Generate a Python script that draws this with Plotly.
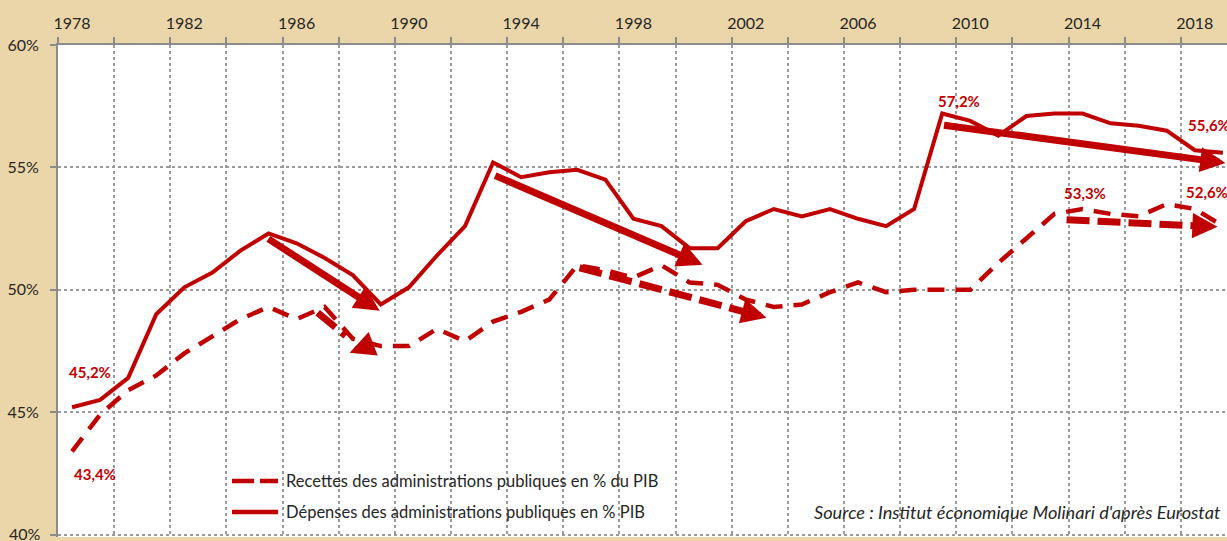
import plotly.graph_objects as go

# ---------------- data ----------------
years = list(range(1978, 2020))
depenses = [45.2, 45.5, 46.4, 49.0, 50.1, 50.7, 51.6, 52.3, 51.9, 51.3,
            50.6, 49.4, 50.1, 51.4, 52.6, 55.2, 54.6, 54.8, 54.9, 54.5,
            52.9, 52.6, 51.7, 51.7, 52.8, 53.3, 53.0, 53.3, 52.9, 52.6,
            53.3, 57.2, 56.9, 56.3, 57.1, 57.2, 57.2, 56.8, 56.7, 56.5,
            55.7, 55.6]
recettes = [43.4, 44.9, 45.9, 46.5, 47.4, 48.1, 48.8, 49.3, 48.8, 49.3,
            48.0, 47.7, 47.7, 48.4, 47.9, 48.7, 49.1, 49.6, 51.0, 50.8,
            50.5, 51.0, 50.3, 50.2, 49.6, 49.3, 49.4, 49.9, 50.3, 49.9,
            50.0, 50.0, 50.0, 51.1, 52.1, 53.1, 53.3, 53.1, 53.0, 53.5,
            53.3, 52.6]
label_years = [1978, 1982, 1986, 1990, 1994, 1998, 2002, 2006, 2010, 2014, 2018]
y_ticks = [40, 45, 50, 55, 60]
y_ticktext = ["40%", "45%", "50%", "55%", "60%"]
name_rec = "Recettes des administrations publiques en % du PIB"
name_dep = "Dépenses des administrations publiques en % PIB"
source_text = "Source : Institut économique Molinari d'après Eurostat"

# value labels: (text, year, series value, xshift, yshift)
value_labels = [
    ("45,2%", 1978, 45.2, 18, 35),
    ("43,4%", 1978, 43.4, 23, -23),
    ("57,2%", 2009, 57.2, 17, 13),
    ("53,3%", 2014, 53.3, 2, 16),
    ("55,6%", 2019, 55.6, -14, 28),
    ("52,6%", 2019, 52.6, -16, 34),
]

# trend arrows (data coordinates): start -> tip
solid_arrows = [((1984.94, 52.12), (1988.96, 49.14)),
                ((1993.02, 54.69), (2000.46, 51.02)),
                ((2009.01, 56.73), (2019.09, 55.18))]
# dashed arrows: start, stem end, head tail, head tip
dashed_arrows = [((1986.75, 49.06), (1987.75, 48.12), (1988.55, 47.72), (1987.89, 47.43)),
                 ((1996.08, 50.90), None, None, (2002.74, 48.86)),
                 ((2013.43, 52.86), None, None, (2018.81, 52.57))]

# ---------------- style ----------------
RED = "#C00000"
TAN = "#EBD6A9"
GRID = "#9a9a9a"
AXIS = "#8c8c8c"
TXT = "#262626"
FONT = "Lato"

W, H = 1227, 541
ML, MR, MT, MB = 58, 0, 45, 4
PW, PH = W - ML - MR, H - MT - MB
X0 = 1977.5
SX = 28.07               # px per year
X1 = X0 + PW / SX
Y0, Y1 = 39.9, 60.0
SY = PH / (Y1 - Y0)      # px per percent


def px_paper(px, py):
    return (px - ML) / PW, (H - MB - py) / PH


def back_from_tip(start, tip, d):
    dx = (tip[0] - start[0]) * SX
    dy = (tip[1] - start[1]) * SY
    L = (dx * dx + dy * dy) ** 0.5
    return (tip[0] - dx / L * d / SX, tip[1] - dy / L * d / SY)


fig = go.Figure()
fig.add_trace(go.Scatter(x=years, y=recettes, mode="lines", name=name_rec,
                         line=dict(color=RED, width=4.5, dash="17px,11px")))
fig.add_trace(go.Scatter(x=years, y=depenses, mode="lines", name=name_dep,
                         line=dict(color=RED, width=4)))

shapes = []
annotations = []

# white boxes behind legend and source text (hide gridlines)
for (xa, ya, xb, yb) in [(135, 466, 770, 528), (800, 498, 1227, 528)]:
    p0 = px_paper(xa, yb)
    p1 = px_paper(xb, ya)
    shapes.append(dict(type="rect", xref="paper", yref="paper", x0=p0[0], y0=p0[1],
                       x1=p1[0], y1=p1[1], fillcolor="white", line=dict(width=0),
                       layer="between"))

# legend samples + text
for (py, dash, txt) in [(481, "22px,6px", name_rec), (512, "solid", name_dep)]:
    a = px_paper(232, py)
    b = px_paper(278, py)
    shapes.append(dict(type="line", xref="paper", yref="paper", x0=a[0], y0=a[1],
                       x1=b[0], y1=b[1], line=dict(color=RED, width=4.5, dash=dash)))
    t = px_paper(284, py)
    annotations.append(dict(xref="paper", yref="paper", x=t[0], y=t[1], text=txt,
                            showarrow=False, xanchor="left", yanchor="middle",
                            font=dict(family=FONT, size=16.5, color=TXT)))

s = px_paper(1223, 512)
annotations.append(dict(xref="paper", yref="paper", x=s[0], y=s[1], text="<i>" + source_text + "</i>",
                        showarrow=False, xanchor="right", yanchor="middle",
                        font=dict(family=FONT, size=18.2, color=TXT)))

# bottom y tick label (Plotly drops it at the figure edge, so place it explicitly)
b40 = px_paper(43, 533)
annotations.append(dict(xref="paper", yref="paper", x=b40[0], y=b40[1], text=y_ticktext[0],
                        showarrow=False, xanchor="right", yanchor="middle",
                        font=dict(family=FONT, size=16, color=TXT)))

# value labels
for (txt, yr, val, xs, ys) in value_labels:
    annotations.append(dict(x=yr, y=val, xref="x", yref="y", text="<b>" + txt + "</b>",
                            showarrow=False, xshift=xs, yshift=ys,
                            font=dict(family=FONT, size=15, color=RED)))

# solid arrows
for (st, tp) in solid_arrows:
    annotations.append(dict(x=tp[0], y=tp[1], ax=st[0], ay=st[1], xref="x", yref="y",
                            axref="x", ayref="y", text="", showarrow=True,
                            arrowhead=2, arrowsize=0.72, arrowwidth=7,
                            arrowcolor=RED, standoff=0))

# dashed arrows
for (st, stem_end, head_tail, tp) in dashed_arrows:
    if head_tail is None:
        head_tail = back_from_tip(st, tp, 22)
        stem_end = back_from_tip(st, tp, 20)
    shapes.append(dict(type="line", xref="x", yref="y", x0=st[0], y0=st[1],
                       x1=stem_end[0], y1=stem_end[1],
                       line=dict(color=RED, width=7, dash="23px,8px")))
    annotations.append(dict(x=tp[0], y=tp[1], ax=head_tail[0], ay=head_tail[1],
                            xref="x", yref="y", axref="x", ayref="y", text="",
                            showarrow=True, arrowhead=2, arrowsize=0.72, arrowwidth=7,
                            arrowcolor=RED, standoff=0))

fig.update_layout(
    width=W, height=H,
    margin=dict(l=ML, r=MR, t=MT, b=MB, pad=0),
    paper_bgcolor=TAN, plot_bgcolor="white",
    showlegend=False,
    shapes=shapes, annotations=annotations,
    font=dict(family=FONT, color=TXT),
)
fig.update_xaxes(
    range=[X0, X1], side="top", showline=True, linecolor=AXIS, linewidth=2,
    tickmode="array", tickvals=label_years, ticktext=[str(y) for y in label_years],
    ticks="", showgrid=False, zeroline=False, ticklabelstandoff=8,
    tickfont=dict(family=FONT, size=16, color=TXT),
    minor=dict(tickmode="array", tickvals=[X0 + 2 * i for i in range(22)],
               ticks="outside", ticklen=6, tickcolor=AXIS, tickwidth=1.5,
               showgrid=True, gridcolor=GRID, griddash="dot", gridwidth=1.5),
)
fig.update_yaxes(
    range=[Y0, Y1], tickmode="array", tickvals=y_ticks, ticktext=y_ticktext,
    ticks="outside", ticklen=6, tickcolor=AXIS, tickwidth=1.5,
    showline=True, linecolor=AXIS, linewidth=2, zeroline=False,
    showgrid=True, gridcolor=GRID, griddash="dot", gridwidth=1.5,
    tickfont=dict(family=FONT, size=16, color=TXT), ticklabelstandoff=8,
)

fig.write_html("out.html")
